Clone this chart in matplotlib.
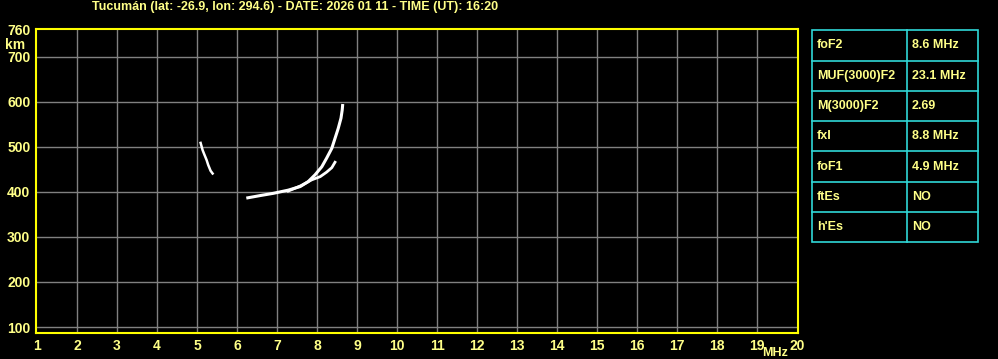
import matplotlib
matplotlib.use("Agg")
import matplotlib.pyplot as plt
from matplotlib.patches import Rectangle

# ---- data ----
title = "Tucumán (lat: -26.9, lon: 294.6) - DATE: 2026 01 11 - TIME (UT): 16:20"
x_ticks = list(range(1, 21))
y_ticks = [100, 200, 300, 400, 500, 600, 700, 760]

# ordinary F2 trace (MHz, km)
o_freq = [6.27, 6.58, 6.91, 7.28, 7.58, 7.78, 7.95, 8.12, 8.24, 8.37, 8.45, 8.53, 8.60, 8.63, 8.64]
o_height = [387, 392, 397, 404, 412, 423, 438, 456, 475, 497, 519, 541, 564, 582, 592]
# extraordinary trace
x_freq = [7.28, 7.60, 7.87, 8.08, 8.24, 8.37, 8.45]
x_height = [402, 414, 427, 434, 444, 454, 466]
# faint F1 branch
f1_freq = [5.09, 5.14, 5.18, 5.24, 5.28, 5.34, 5.39]
f1_height = [509, 493, 484, 471, 460, 447, 441]

table_keys = ["foF2", "MUF(3000)F2", "M(3000)F2", "fxI", "foF1", "ftEs", "h'Es"]
table_vals = ["8.6 MHz", "23.1 MHz", "2.69", "8.8 MHz", "4.9 MHz", "NO", "NO"]

# ---- style ----
W, H = 998, 359
BG = "black"
FRAME = "#ffff00"
TXT = "#ffff88"
GRID = "#808080"
CYAN = "#30d8d8"
FONT = "Liberation Sans"

fig = plt.figure(figsize=(W / 100, H / 100), dpi=100, facecolor=BG)

# overlay in pixel coordinates for the table and free text
pax = fig.add_axes([0, 0, 1, 1])
pax.set_xlim(0, W)
pax.set_ylim(H, 0)
pax.axis("off")
pax.set_facecolor(BG)

L, R, T, B = 36, 798, 29, 333
ax = fig.add_axes([L / W, 1 - B / H, (R - L) / W, (B - T) / H], facecolor=BG)
ax.set_xlim(0.975, 20.025)
ax.set_ylim(86.7, 762)

for f in x_ticks[1:-1]:
    ax.axvline(f, color=GRID, lw=1.0, zorder=1)
for h in y_ticks[:-1]:
    ax.axhline(h, color=GRID, lw=1.0, zorder=1)

ax.plot(f1_freq, f1_height, color="white", lw=1.8, zorder=3)
ax.plot(x_freq, x_height, color="white", lw=2.0, zorder=3)
ax.plot(o_freq, o_height, color="white", lw=2.2, zorder=3)

for s in ax.spines.values():
    s.set_color(FRAME)
    s.set_linewidth(1.5)

ax.set_xticks(x_ticks)
ax.set_yticks(y_ticks)
ax.tick_params(length=0, colors=TXT, labelsize=10)
ax.set_xticklabels([str(v) for v in x_ticks], fontfamily=FONT, fontweight="bold", color=TXT)
ax.set_yticklabels([str(v) for v in y_ticks], fontfamily=FONT, fontweight="bold", color=TXT)
ax.tick_params(axis="x", pad=4)
ax.tick_params(axis="y", pad=4)

pax.text(5, 45, "km", color=TXT, fontsize=10, fontweight="bold", fontfamily=FONT, va="center", ha="left")
pax.text(775, 353, "MHz", color=TXT, fontsize=9, fontweight="bold", fontfamily=FONT, va="center", ha="center")
pax.text(295, 7, title, color=TXT, fontsize=9, fontweight="bold", fontfamily=FONT, va="center", ha="center")

# table
tx0, tx1, tdiv = 812, 978, 907
rows_y = [30, 61, 91, 121, 151, 182, 212, 242]
pax.add_patch(Rectangle((tx0, rows_y[0]), tx1 - tx0, rows_y[-1] - rows_y[0], fill=False, edgecolor=CYAN, lw=1.2))
pax.plot([tdiv, tdiv], [rows_y[0], rows_y[-1]], color=CYAN, lw=1.2)
for y in rows_y[1:-1]:
    pax.plot([tx0, tx1], [y, y], color=CYAN, lw=1.2)
for i, (k, v) in enumerate(zip(table_keys, table_vals)):
    yc = (rows_y[i] + rows_y[i + 1]) / 2
    pax.text(817, yc, k, color=TXT, fontsize=9, fontweight="bold", fontfamily=FONT, va="center", ha="left")
    pax.text(912, yc, v, color=TXT, fontsize=9, fontweight="bold", fontfamily=FONT, va="center", ha="left")

fig.savefig("out.png", dpi=100, facecolor=BG)
